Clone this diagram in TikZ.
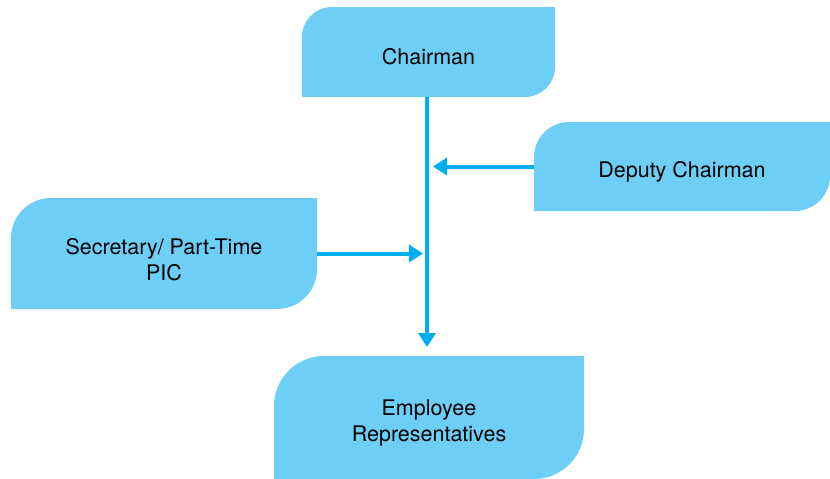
\documentclass[tikz,border=0pt]{standalone}
\usepackage{fontspec}
\setmainfont{TeX Gyre Heros}
\usetikzlibrary{arrows.meta, positioning}
\definecolor{OrgBox}{HTML}{6DCFF6}
\definecolor{OrgLink}{HTML}{00AEEF}
\tikzset{
   leaf/.style n args={3}{rectangle, inner sep=0pt, outer sep=0pt,
      minimum width=#1, minimum height=#2, align=center,
      font=\fontsize{21.5}{26}\selectfont, text height=25.7pt,
      path picture={
         \fill[OrgBox] (path picture bounding box.south west)
            -- ([yshift=-#3]path picture bounding box.north west)
            arc[start angle=180, end angle=90, radius=#3]
            -- (path picture bounding box.north east)
            -- ([yshift=#3]path picture bounding box.south east)
            arc[start angle=0, end angle=-90, radius=#3]
            -- cycle;
      }},
   twolines/.style={text height=53.6pt},
   link/.style={OrgLink, line width=4pt, -{Triangle[length=14pt, width=17pt]}}
}
\begin{document}
\begin{tikzpicture}[x=1pt, y=-1pt]
      \useasboundingbox (0,0) rectangle (830,479);
      % Boxes
      \node[leaf={253pt}{90pt}{30pt}] (chairman) at (428.5,52) {Chairman};
      \node[leaf={296pt}{89pt}{35pt}] (deputy) at (682,166.5) {Deputy Chairman};
      \node[leaf={306pt}{111pt}{40pt}, twolines] (secretary) at (164,253.5) {Secretary/ Part-Time\\PIC};
      \node[leaf={310pt}{123pt}{50pt}, twolines] (employees) at (429,417.5) {Employee\\Representatives};
      % Spine of the chart
      \coordinate (spine) at (427,0);
      \draw[link] (chairman.south -| spine) -- ([yshift=9pt]employees.north -| spine);
      % Side arrows into the spine
      \draw[link] (deputy.west) -- ([xshift=6pt]deputy.west -| spine);
      \draw[link] (secretary.east) -- ([xshift=-4pt]secretary.east -| spine);
   \end{tikzpicture}
\end{document}
